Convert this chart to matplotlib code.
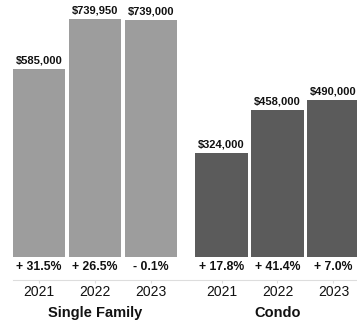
import matplotlib
matplotlib.use("Agg")
import matplotlib.pyplot as plt
from matplotlib.transforms import blended_transform_factory

plt.rcParams["font.family"] = ["Liberation Sans", "DejaVu Sans"]

years = ["2021", "2022", "2023"]
groups = ["Single Family", "Condo"]
single_family = [585000, 739950, 739000]
condo = [324000, 458000, 490000]
sf_change = ["+ 31.5%", "+ 26.5%", "- 0.1%"]
condo_change = ["+ 17.8%", "+ 41.4%", "+ 7.0%"]

sf_color = "#9d9d9d"
condo_color = "#5b5b5b"
group_offset = 3.26

fig = plt.figure(figsize=(3.57, 3.25), dpi=100)
ax = fig.add_axes([0, (325 - 257) / 325, 1, 257 / 325])

sf_x = [i for i in range(len(years))]
condo_x = [group_offset + i for i in range(len(years))]

ax.bar(sf_x, single_family, width=0.93, color=sf_color)
ax.bar(condo_x, condo, width=0.93, color=condo_color)

ax.set_xlim(-0.696, 5.68)
ax.set_ylim(0, 257 * 3115)

for xs, vals, changes in [(sf_x, single_family, sf_change), (condo_x, condo, condo_change)]:
    for x, v, c, yr in zip(xs, vals, changes, years):
        ax.annotate(f"${v:,.0f}", (x, v), xytext=(0, 2.5), textcoords="offset points",
                    ha="center", va="bottom", fontsize=8, fontweight="bold",
                    color="#111111", annotation_clip=False)
        ax.annotate(c, (x, 0), xytext=(0, -7.4), textcoords="offset points",
                    ha="center", va="center", fontsize=8.8, fontweight="bold",
                    color="#111111", annotation_clip=False)
        ax.annotate(yr, (x, 0), xytext=(0, -25.2), textcoords="offset points",
                    ha="center", va="center", fontsize=10, color="#111111",
                    annotation_clip=False)

trans = blended_transform_factory(ax.transData, ax.transAxes)
for x, name in [(sf_x[1], groups[0]), (condo_x[1], groups[1])]:
    ax.annotate(name, (x, 0), xycoords=trans, xytext=(0, -40.3), textcoords="offset points",
                ha="center", va="center", fontsize=10.5, fontweight="bold",
                color="#111111", annotation_clip=False)

# baseline rule under the change labels, with small ticks at each bar
for side in ["top", "right", "left"]:
    ax.spines[side].set_visible(False)
ax.spines["bottom"].set_position(("outward", 16.6))
ax.spines["bottom"].set_color("#dddddd")
ax.spines["bottom"].set_bounds(-0.47, 5.68)
ax.set_xticks(sf_x + condo_x)
ax.set_xticklabels([])
ax.tick_params(axis="x", length=2.5, color="#dddddd", width=0.8)
ax.set_yticks([])

fig.savefig("out.png", dpi=100)
